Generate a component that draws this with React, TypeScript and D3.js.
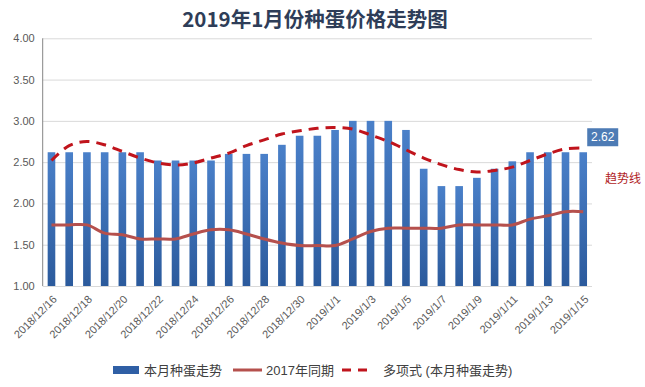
import * as d3 from 'd3'
import React, { useEffect, useRef } from 'react'

// dates on the x axis (one bar per day)
const dates = [
    '2018/12/16', '2018/12/17', '2018/12/18', '2018/12/19', '2018/12/20', '2018/12/21',
    '2018/12/22', '2018/12/23', '2018/12/24', '2018/12/25', '2018/12/26', '2018/12/27',
    '2018/12/28', '2018/12/29', '2018/12/30', '2018/12/31', '2019/1/1', '2019/1/2',
    '2019/1/3', '2019/1/4', '2019/1/5', '2019/1/6', '2019/1/7', '2019/1/8', '2019/1/9',
    '2019/1/10', '2019/1/11', '2019/1/12', '2019/1/13', '2019/1/14', '2019/1/15',
]

// 本月种蛋走势
const thisMonth = [
    2.62, 2.62, 2.62, 2.62, 2.62, 2.62, 2.52, 2.52, 2.52, 2.52, 2.6, 2.6, 2.6, 2.71, 2.82, 2.82,
    2.89, 3.0, 3.0, 3.0, 2.89, 2.42, 2.21, 2.21, 2.31, 2.42, 2.51, 2.62, 2.62, 2.62, 2.62,
]

// 2017年同期
const lastYear = [
    1.74, 1.74, 1.74, 1.64, 1.62, 1.57, 1.57, 1.57, 1.63, 1.68, 1.68, 1.63, 1.57, 1.52, 1.49, 1.49,
    1.49, 1.57, 1.66, 1.7, 1.7, 1.7, 1.7, 1.74, 1.74, 1.74, 1.74, 1.81, 1.85, 1.9, 1.9,
]

// 多项式 (本月种蛋走势) trend line
const trend = [
    2.52, 2.7, 2.75, 2.71, 2.63, 2.55, 2.49, 2.465, 2.49, 2.55, 2.61, 2.7, 2.77, 2.84, 2.88, 2.91,
    2.92, 2.9, 2.83, 2.75, 2.65, 2.55, 2.47, 2.41, 2.38, 2.4, 2.44, 2.52, 2.6, 2.66, 2.67,
]

const yTicks = [1, 1.5, 2, 2.5, 3, 3.5, 4]
const legendLabels = ['本月种蛋走势', '2017年同期', '多项式 (本月种蛋走势)']

const Chart = (): JSX.Element => {
    const ref = useRef<SVGSVGElement>(null)
    const width = 645
    const height = 387
    const margin = { top: 38.3, right: 53, bottom: 101, left: 42.7 }
    const font = '"Liberation Sans", "Noto Sans CJK SC", sans-serif'

    useEffect(() => {
        const svg = d3.select(ref.current)
        svg.selectAll('*').remove()

        const xScale = d3
            .scaleBand()
            .domain(dates)
            .range([margin.left, width - margin.right])
            .paddingInner(0.57)
            .paddingOuter(0.28)

        const yScale = d3
            .scaleLinear()
            .domain([1, 4])
            .range([height - margin.bottom, margin.top])

        const cx = (d) => xScale(d) + xScale.bandwidth() / 2

        const defs = svg.append('defs')
        const grad = defs
            .append('linearGradient')
            .attr('id', 'barGrad')
            .attr('x1', 0)
            .attr('x2', 0)
            .attr('y1', 0)
            .attr('y2', 1)
        grad.append('stop').attr('offset', '0%').attr('stop-color', '#4a80c9')
        grad.append('stop').attr('offset', '100%').attr('stop-color', '#2b5a9c')

        // title
        svg.append('text')
            .attr('x', 315)
            .attr('y', 27)
            .attr('text-anchor', 'middle')
            .style('font-family', '"Noto Sans CJK SC", sans-serif')
            .style('font-size', '20.5px')
            .style('font-weight', 'bold')
            .style('fill', '#2e3d58')
            .text('2019年1月份种蛋价格走势图')

        // grid
        const yAxis = d3
            .axisLeft(yScale)
            .tickValues(yTicks)
            .tickFormat(d3.format('.2f'))
            .tickSize(-(width - margin.left - margin.right))
            .tickPadding(8)
        const gy = svg.append('g').attr('transform', `translate(${margin.left},0)`).call(yAxis)
        gy.select('.domain').remove()
        gy.selectAll('line').attr('stroke', '#d9d9d9')
        gy.selectAll('text')
            .style('font-family', font)
            .style('font-size', '11px')
            .style('fill', '#595959')

        // bars
        svg.append('g')
            .selectAll('rect')
            .data(thisMonth)
            .enter()
            .append('rect')
            .attr('x', (d, i) => xScale(dates[i]))
            .attr('width', xScale.bandwidth())
            .attr('y', (d) => yScale(d))
            .attr('height', (d) => yScale(1) - yScale(d))
            .attr('fill', 'url(#barGrad)')

        // axis line
        svg.append('line')
            .attr('x1', margin.left)
            .attr('x2', margin.left)
            .attr('y1', yScale(4))
            .attr('y2', yScale(1))
            .attr('stroke', '#868686')
            .attr('stroke-width', 1)

        const line = d3
            .line<number>()
            .x((d, i) => cx(dates[i]))
            .y((d) => yScale(d))
            .curve(d3.curveCatmullRom)

        svg.append('path')
            .attr('d', line(lastYear))
            .attr('fill', 'none')
            .attr('stroke', '#b5504d')
            .attr('stroke-width', 3)

        svg.append('path')
            .attr('d', line(trend))
            .attr('fill', 'none')
            .attr('stroke', '#c0141c')
            .attr('stroke-width', 3)
            .attr('stroke-dasharray', '10,7')

        // x labels, every other day
        svg.append('g')
            .selectAll('text')
            .data(dates.filter((d, i) => i % 2 === 0))
            .enter()
            .append('text')
            .attr('transform', (d) => `translate(${cx(d) + 6},${yScale(1) + 14}) rotate(-45)`)
            .attr('text-anchor', 'end')
            .style('font-family', font)
            .style('font-size', '11px')
            .style('fill', '#595959')
            .text((d) => d)

        // data label for last bar
        const last = thisMonth[thisMonth.length - 1]
        const lx = cx(dates[dates.length - 1])
        svg.append('rect')
            .attr('x', lx + 4)
            .attr('y', yScale(last) - 24)
            .attr('width', 31)
            .attr('height', 18)
            .attr('fill', '#4d7bb5')
        svg.append('text')
            .attr('x', lx + 19.5)
            .attr('y', yScale(last) - 11)
            .attr('text-anchor', 'middle')
            .style('font-family', font)
            .style('font-size', '12px')
            .style('fill', '#ffffff')
            .text(d3.format('.2f')(last))

        svg.append('text')
            .attr('x', 605)
            .attr('y', 183)
            .style('font-family', '"Noto Sans CJK SC", sans-serif')
            .style('font-size', '12px')
            .style('fill', '#b01c24')
            .text('趋势线')

        // legend
        const ly = 370
        const legend = svg.append('g').style('font-family', font).style('font-size', '13px')
        legend
            .append('rect')
            .attr('x', 113)
            .attr('y', ly - 4)
            .attr('width', 26)
            .attr('height', 8)
            .attr('fill', '#2f5fa5')
        legend
            .append('text')
            .attr('x', 144)
            .attr('y', ly + 5)
            .style('fill', '#404040')
            .text(legendLabels[0])
        legend
            .append('line')
            .attr('x1', 233)
            .attr('x2', 262)
            .attr('y1', ly)
            .attr('y2', ly)
            .attr('stroke', '#b5504d')
            .attr('stroke-width', 3)
        legend
            .append('text')
            .attr('x', 266)
            .attr('y', ly + 5)
            .style('fill', '#404040')
            .text(legendLabels[1])
        legend
            .append('line')
            .attr('x1', 342)
            .attr('x2', 372)
            .attr('y1', ly)
            .attr('y2', ly)
            .attr('stroke', '#c0141c')
            .attr('stroke-width', 3)
            .attr('stroke-dasharray', '9,7')
        legend
            .append('text')
            .attr('x', 383)
            .attr('y', ly + 5)
            .style('fill', '#404040')
            .text(legendLabels[2])
    }, [])

    return <svg ref={ref} width={width} height={height} style={{ display: 'block' }} />
}

const App = (): JSX.Element => {
    useEffect(() => {
        document.body.style.margin = '0'
    }, [])
    return <Chart />
}

export default App
